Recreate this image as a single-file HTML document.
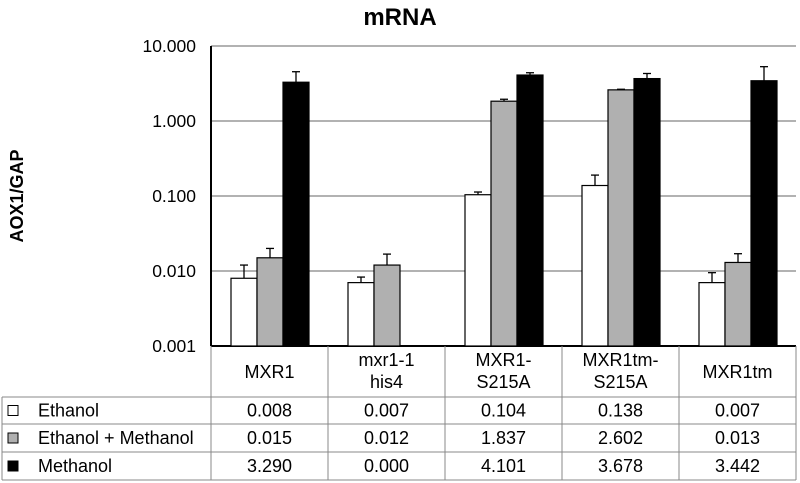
<!DOCTYPE html>
<html><head><meta charset="utf-8"><style>
body{margin:0;background:#fff;}
svg{display:block;font-family:"Liberation Sans",Arial,sans-serif;}
</style></head><body>
<svg id="chart" width="800" height="483">
<text x="400" y="25" text-anchor="middle" font-size="24" font-weight="bold">mRNA</text>
<text transform="translate(23,196) rotate(-90)" text-anchor="middle" font-size="18" font-weight="bold">AOX1/GAP</text>
<g id="grid"></g><g id="bars"></g><g id="table"></g>
</svg>
<script>
const categories=[["MXR1"],["mxr1-1","his4"],["MXR1-","S215A"],["MXR1tm-","S215A"],["MXR1tm"]];
const seriesNames=["Ethanol","Ethanol + Methanol","Methanol"];
const ethanol=[0.008,0.007,0.104,0.138,0.007];
const ethMeth=[0.015,0.012,1.837,2.602,0.013];
const methanol=[3.290,0.000,4.101,3.678,3.442];
const ethanolErr=[0.012,0.0083,0.113,0.19,0.0095];
const ethMethErr=[0.020,0.0168,1.95,2.65,0.017];
const methanolErr=[4.54,0,4.4,4.3,5.3];
const yTicks=[0.001,0.01,0.1,1,10];
const yTickLabels=["0.001","0.010","0.100","1.000","10.000"];
const tableLabels=[["0.008","0.007","0.104","0.138","0.007"],["0.015","0.012","1.837","2.602","0.013"],["3.290","0.000","4.101","3.678","3.442"]];

const NS="http://www.w3.org/2000/svg";
const L=211,R=796,T=46,B=346,catW=(R-L)/categories.length;
const y=v=>B-(Math.log10(v)+3)/4*(B-T);
const x=(c,s)=>L+c*catW+20+s*26;
function mk(par,tag,at){const e=document.createElementNS(NS,tag);for(const k in at)e.setAttribute(k,at[k]);document.getElementById(par).appendChild(e);return e;}
yTicks.forEach((t,i)=>{
 const g=mk('grid','line',{x1:L,x2:R,y1:y(t),y2:y(t),stroke:i==0?'#000':'#999','stroke-width':i==0?2:1.5});
 
 
 const tx=mk('grid','text',{x:196,y:y(t)+6,'text-anchor':'end','font-size':17.5});
 tx.textContent=yTickLabels[i];
 
 
});
const ax=mk('grid','line',{x1:L,x2:L,y1:T,y2:B,stroke:'#000','stroke-width':2});


const series=[ethanol,ethMeth,methanol],errs=[ethanolErr,ethMethErr,methanolErr],fills=['#fff','#b0b0b0','#000'];
series.forEach((arr,s)=>arr.forEach((v,c)=>{
 if(v<=0)return;
 const e=errs[s][c];
 if(e>v){
  const cx=x(c,s)+13;
  const l1=mk('bars','line',{x1:cx,x2:cx,y1:y(e),y2:y(v),stroke:'#000','stroke-width':1.3});
  
  
  const l2=mk('bars','line',{x1:cx-4,x2:cx+4,y1:y(e),y2:y(e),stroke:'#000','stroke-width':1.3});
  
  
 }
 const r=mk('bars','rect',{x:x(c,s),y:y(v),width:26,height:B-y(v),fill:fills[s],stroke:'#000','stroke-width':1.2});
 
 
}));
const rowsY=[346,397,424,452,480];
const ln=(a,b,c,d)=>{const e=mk('table','line',{x1:a,y1:b,x2:c,y2:d,stroke:'#888','stroke-width':1});};
for(let i=0;i<=categories.length;i++)ln(L+i*catW,346,L+i*catW,480);
ln(2,397,2,480);
rowsY.slice(1).forEach(yy=>ln(2,yy,R,yy));
categories.forEach((lab,c)=>{
 const cx=L+c*catW+catW/2;
 lab.forEach((t,j)=>{
  const tx=mk('table','text',{x:cx,y:lab.length==1?378:366+j*22,'text-anchor':'middle','font-size':18});
  tx.textContent=t;
  
  
 });
});
seriesNames.forEach((n,s)=>{
 const yy=rowsY[s+1],mid=yy+(rowsY[s+2]-yy)/2;
 const sw=mk('table','rect',{x:8,y:mid-5,width:10,height:10,fill:fills[s],stroke:'#000','stroke-width':1});
 
 
 const tx=mk('table','text',{x:38,y:mid+6,'font-size':18});
 tx.textContent=n;
 
 
 tableLabels[s].forEach((v,c)=>{
  const t=mk('table','text',{x:L+c*catW+catW/2,y:mid+6,'text-anchor':'middle','font-size':18});
  t.textContent=v;
  
  
 });
});
</script>
</body></html>
